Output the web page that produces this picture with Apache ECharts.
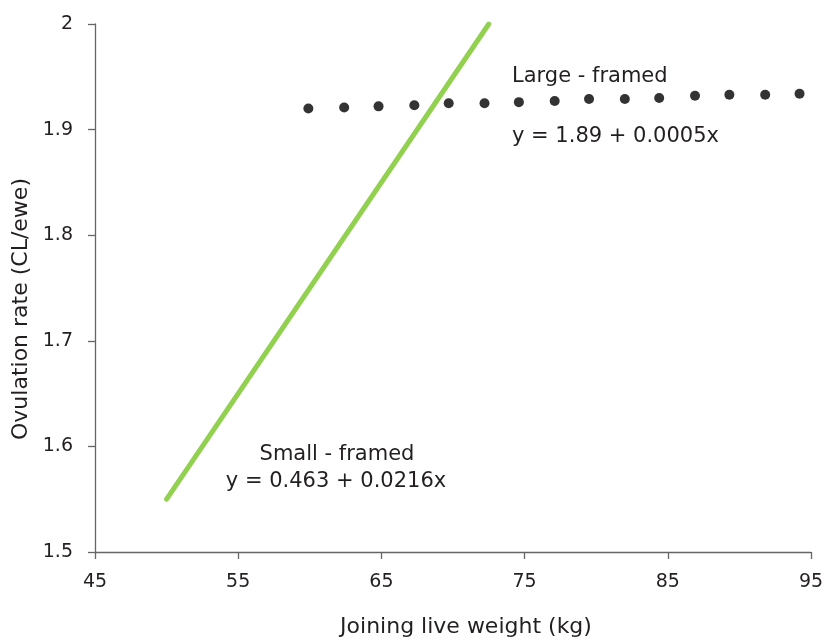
<!DOCTYPE html>
<html>
<head>
<meta charset="utf-8">
<script src="https://cdn.jsdelivr.net/npm/echarts@6/dist/echarts.min.js"></script>
<style>
html,body{margin:0;padding:0;background:#fff;}
#chart{width:824px;height:639px;}
</style>
</head>
<body>
<div id="chart"></div>
<script>
// Data
const largeX = [59.9, 62.4, 64.8, 67.3, 69.7, 72.2, 74.6, 77.1, 79.5, 82.0, 84.4, 86.9, 89.3, 91.8, 94.2];
const largeY = [1.920, 1.921, 1.922, 1.923, 1.925, 1.925, 1.926, 1.927, 1.929, 1.929, 1.930, 1.932, 1.933, 1.933, 1.934];
const smallX = [50, 72.5];
const smallY = [1.55, 2.0];
const xTicks = [45, 55, 65, 75, 85, 95];
const yTicks = [1.5, 1.6, 1.7, 1.8, 1.9, 2];
const largeLabel = 'Large - framed';
const largeEq = 'y = 1.89 + 0.0005x';
const smallLabel = 'Small - framed';
const smallEq = 'y = 0.463 + 0.0216x';
const xName = 'Joining live weight (kg)';
const yName = 'Ovulation rate (CL/ewe)';

const FONT = 'DejaVu Sans';
const TXT = '#231f20';
const chart = echarts.init(document.getElementById('chart'), null, {renderer: 'canvas'});
const axisCommon = {
  axisLine: {show: true, lineStyle: {color: '#666', width: 1.3}},
  axisTick: {show: true, length: 7, lineStyle: {color: '#666', width: 1.3}},
  splitLine: {show: false},
  axisLabel: {color: TXT, fontFamily: FONT, fontSize: 19}
};
const annFont = '21px "DejaVu Sans"';
chart.setOption({
  animation: false,
  backgroundColor: '#fff',
  grid: {left: 95, right: 13, top: 24, bottom: 87, containLabel: false, outerBoundsMode: 'none'},
  xAxis: Object.assign({}, axisCommon, {
    type: 'value', min: xTicks[0], max: xTicks[xTicks.length - 1], interval: 10,
    name: xName, nameLocation: 'middle', nameGap: 64,
    nameTextStyle: {color: TXT, fontFamily: FONT, fontSize: 22, padding: [0, 0, 0, 26]},
    axisLabel: Object.assign({}, axisCommon.axisLabel, {margin: 21})
  }),
  yAxis: Object.assign({}, axisCommon, {
    type: 'value', min: yTicks[0], max: yTicks[yTicks.length - 1], interval: 0.1,
    name: yName, nameLocation: 'middle', nameGap: 63, nameRotate: 90,
    nameTextStyle: {color: TXT, fontFamily: FONT, fontSize: 22, padding: [0, 42, 0, 0]},
    axisLabel: Object.assign({}, axisCommon.axisLabel, {margin: 22, formatter: v => String(Math.round(v * 10) / 10)})
  }),
  series: [
    {
      type: 'line',
      data: smallX.map((x, i) => [x, smallY[i]]),
      showSymbol: false,
      lineStyle: {color: '#92D050', width: 5, cap: 'round'},
      z: 2
    },
    {
      type: 'scatter',
      data: largeX.map((x, i) => [x, largeY[i]]),
      symbol: 'circle',
      symbolSize: 10,
      itemStyle: {color: '#000'},
      z: 3
    }
  ],
  graphic: [
    {type: 'text', x: 512, y: 77, style: {text: largeLabel, fill: TXT, font: annFont, textAlign: 'left', textVerticalAlign: 'middle'}},
    {type: 'text', x: 512, y: 137, style: {text: largeEq, fill: TXT, font: annFont, textAlign: 'left', textVerticalAlign: 'middle'}},
    {type: 'text', x: 337, y: 455, style: {text: smallLabel, fill: TXT, font: annFont, textAlign: 'center', textVerticalAlign: 'middle'}},
    {type: 'text', x: 336, y: 482, style: {text: smallEq, fill: TXT, font: annFont, textAlign: 'center', textVerticalAlign: 'middle'}}
  ]
});
</script>
</body>
</html>
